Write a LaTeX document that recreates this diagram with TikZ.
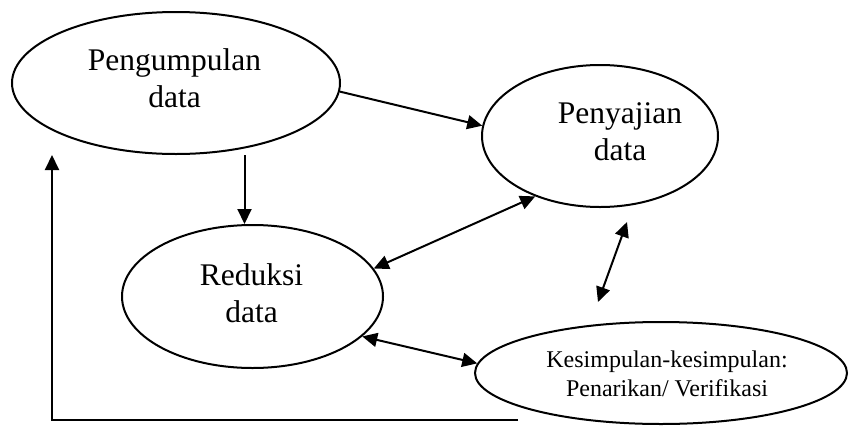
\documentclass[tikz,border=0pt]{standalone}
\usepackage{fontspec}
\setmainfont{Liberation Serif}
\usetikzlibrary{shapes.geometric,arrows.meta}
\begin{document}
\begin{tikzpicture}[x=1pt,y=-1pt,
  oval/.style={ellipse,draw,line width=2pt,inner sep=0pt},
  lbl/.style={align=center,inner sep=0pt,font=\fontsize{31.5}{37}\selectfont},
  lblsmall/.style={align=center,inner sep=0pt,font=\fontsize{24}{29}\selectfont},
  arr/.style={line width=2pt,-{Triangle[length=15pt,width=14pt]}},
  darr/.style={line width=2pt,{Triangle[length=15pt,width=14pt]}-{Triangle[length=15pt,width=14pt]}}]
\fill[white] (0,0) rectangle (849,426);
\useasboundingbox (0,0) rectangle (849,426);
\node[oval,minimum width=328pt,minimum height=142pt] (e1) at (176,83) {};
\node[oval,minimum width=236pt,minimum height=142pt] (e2) at (600,136) {};
\node[oval,minimum width=261pt,minimum height=143pt] (e3) at (252.5,296.5) {};
\node[oval,minimum width=372pt,minimum height=102pt] (e4) at (661,373) {};
\node[lbl] (t1) at (174.5,78.5) {Pengumpulan\\data};
\node[lbl] (t2) at (620,132) {Penyajian\\data};
\node[lbl] (t3) at (251.5,293.5) {Reduksi\\data};
\node[lblsmall] (t4) at (667,374.3) {Kesimpulan-kesimpulan:\\Penarikan/ Verifikasi};
\draw[arr] (e1.-3.5) -- (e2.175.6);
\coordinate (d1) at ([xshift=-8pt]e3.north);
\draw[arr] (d1 |- e1.south) -- (d1);
\draw[darr] (e3.13.3) -- (e2.223.3);
\draw[darr] (e3.-20.3) -- (e4.177.5);
\coordinate (c1) at (627,222);
\coordinate (c2) at (598,302);
\draw[darr] (c1) -- (c2);
\coordinate (f1) at (518,420);
\coordinate (f2) at (52,155);
\draw[arr] (f1) -| (f2);
\end{tikzpicture}
\end{document}
